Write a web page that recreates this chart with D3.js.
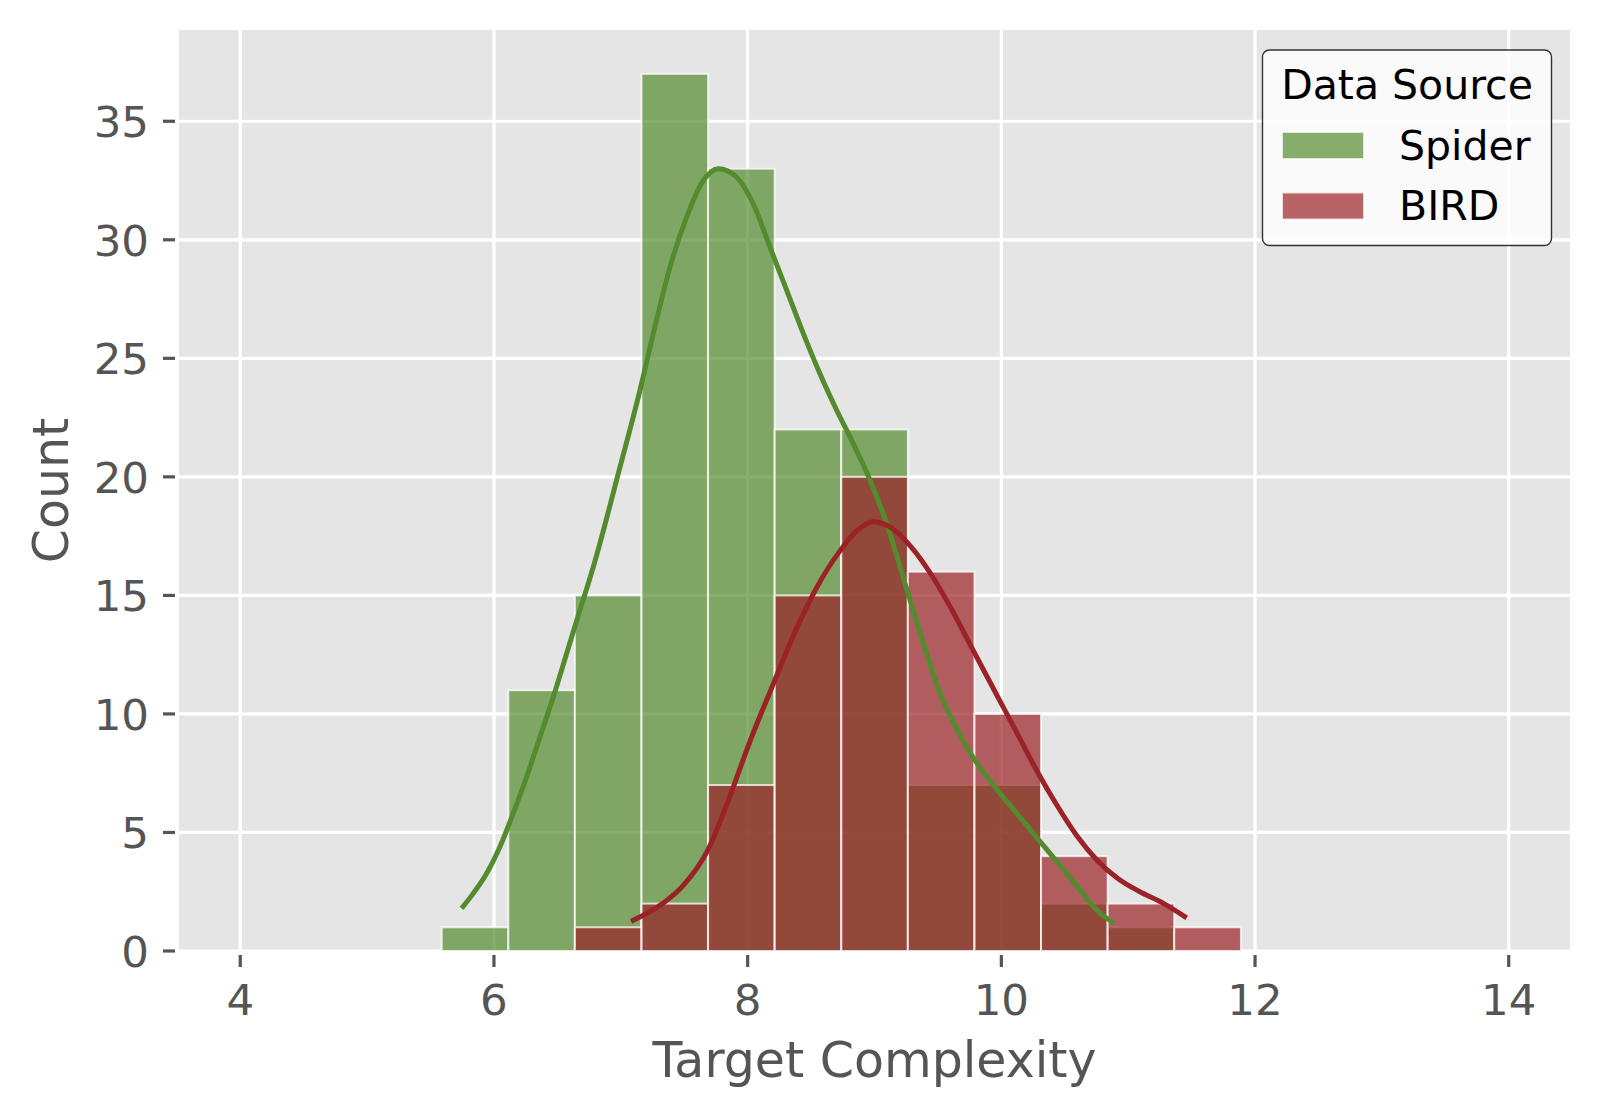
<!DOCTYPE html>
<html>
<head>
<meta charset="utf-8">
<script src="https://cdn.jsdelivr.net/npm/d3@7.9.0/dist/d3.min.js"></script>
<style>
  html, body { margin: 0; padding: 0; background: #ffffff; }
  svg { display: block; font-family: "DejaVu Sans", sans-serif; }
</style>
</head>
<body>
<svg id="chart" width="1602" height="1118"></svg>
<script>
// histogram bins shared by both sources
const binEdges = [5.588, 6.113, 6.638, 7.163, 7.688, 8.213, 8.738, 9.263, 9.788, 10.313, 10.838, 11.363, 11.889];
const spiderCounts = [1, 11, 15, 37, 33, 22, 22, 7, 7, 2, 1, 0];
const birdCounts = [0, 0, 1, 2, 7, 15, 20, 16, 10, 4, 2, 1];

// kde curves (x, count)
const spiderKde = [
  [5.745, 1.80], [5.837, 2.43], [5.943, 3.28], [6.047, 4.40], [6.152, 5.81],
  [6.258, 7.35], [6.363, 9.03], [6.468, 10.72], [6.573, 12.55], [6.678, 14.38],
  [6.783, 16.20], [6.994, 20.42], [7.151, 23.65], [7.256, 26.04],
  [7.388, 28.85], [7.519, 30.96], [7.650, 32.50], [7.769, 33.00], [7.914, 32.64],
  [8.044, 31.52], [8.176, 29.69], [8.308, 27.87], [8.439, 26.04], [8.570, 24.35],
  [8.702, 22.81], [8.833, 21.40], [8.965, 19.86], [9.096, 18.03], [9.255, 15.25],
  [9.385, 12.99], [9.516, 10.88], [9.647, 9.38], [9.777, 8.17], [9.941, 6.97],
  [10.105, 5.91], [10.268, 4.86], [10.431, 3.81], [10.595, 2.75], [10.758, 1.70],
  [10.889, 1.17]
];
const birdKde = [
  [7.081, 1.25], [7.326, 1.99], [7.489, 2.75], [7.686, 4.26], [7.849, 6.37],
  [8.013, 8.77], [8.208, 11.34], [8.372, 13.44], [8.536, 15.25], [8.732, 16.91],
  [8.862, 17.73], [8.993, 18.11], [9.124, 17.88], [9.287, 17.06], [9.451, 15.85],
  [9.614, 14.35], [9.777, 12.69], [9.941, 11.03], [10.105, 9.38], [10.268, 7.72],
  [10.431, 6.21], [10.595, 4.86], [10.758, 3.81], [10.921, 3.05], [11.085, 2.52],
  [11.281, 2.00], [11.461, 1.40]
];

const xTicks = [4, 6, 8, 10, 12, 14];
const yTicks = [0, 5, 10, 15, 20, 25, 30, 35];
const seriesNames = ['Spider', 'BIRD'];
const seriesColors = ['#558B2F', '#9B2226'];

const svg = d3.select('#chart');
const plot = { left: 179, right: 1570, top: 30, bottom: 951 };

const xScale = d3.scaleLinear().domain([3.517, 14.483]).range([plot.left, plot.right]);
const yScale = d3.scaleLinear().domain([0, 38.85]).range([plot.bottom, plot.top]);

// panel background
svg.append('rect')
  .attr('x', plot.left).attr('y', plot.top)
  .attr('width', plot.right - plot.left).attr('height', plot.bottom - plot.top)
  .attr('fill', '#E5E5E5');

// gridlines
const grid = svg.append('g').attr('class', 'grid');
grid.selectAll('line.gx')
  .data(xTicks)
  .join('line')
  .attr('class', 'gx')
  .attr('x1', d => xScale(d)).attr('x2', d => xScale(d))
  .attr('y1', plot.top).attr('y2', plot.bottom)
  .attr('stroke', '#ffffff').attr('stroke-width', 3.2);
grid.selectAll('line.gy')
  .data(yTicks)
  .join('line')
  .attr('class', 'gy')
  .attr('x1', plot.left).attr('x2', plot.right)
  .attr('y1', d => yScale(d)).attr('y2', d => yScale(d))
  .attr('stroke', '#ffffff').attr('stroke-width', 3.2);

// histogram bars
const bins = binEdges.slice(0, -1).map((x0, i) => ({ x0, x1: binEdges[i + 1], i }));

[spiderCounts, birdCounts].forEach((counts, s) => {
  svg.append('g')
    .attr('class', 'bars-' + seriesNames[s])
    .selectAll('rect')
    .data(bins.filter(b => counts[b.i] > 0))
    .join('rect')
    .attr('x', d => xScale(d.x0))
    .attr('width', d => xScale(d.x1) - xScale(d.x0))
    .attr('y', d => yScale(counts[d.i]))
    .attr('height', d => yScale(0) - yScale(counts[d.i]))
    .attr('fill', seriesColors[s])
    .attr('fill-opacity', 0.7)
    .attr('stroke', '#ffffff')
    .attr('stroke-opacity', 0.75)
    .attr('stroke-width', 2);
});

// kde lines
const line = d3.line()
  .x(d => xScale(d[0]))
  .y(d => yScale(d[1]))
  .curve(d3.curveMonotoneX);

[spiderKde, birdKde].forEach((pts, s) => {
  svg.append('path')
    .datum(pts)
    .attr('d', line)
    .attr('fill', 'none')
    .attr('stroke', seriesColors[s])
    .attr('stroke-width', 5);
});

// ticks
const tickColor = '#555555';
const xt = svg.append('g').attr('class', 'x-ticks');
xt.selectAll('line')
  .data(xTicks)
  .join('line')
  .attr('x1', d => xScale(d)).attr('x2', d => xScale(d))
  .attr('y1', plot.bottom + 4).attr('y2', plot.bottom + 16)
  .attr('stroke', tickColor).attr('stroke-width', 3.2);
xt.selectAll('text')
  .data(xTicks)
  .join('text')
  .attr('x', d => xScale(d))
  .attr('y', 1015)
  .attr('text-anchor', 'middle')
  .attr('font-size', 43.5)
  .attr('fill', tickColor)
  .text(d => d);

const yt = svg.append('g').attr('class', 'y-ticks');
yt.selectAll('line')
  .data(yTicks)
  .join('line')
  .attr('x1', plot.left - 16).attr('x2', plot.left - 4)
  .attr('y1', d => yScale(d)).attr('y2', d => yScale(d))
  .attr('stroke', tickColor).attr('stroke-width', 3.2);
yt.selectAll('text')
  .data(yTicks)
  .join('text')
  .attr('x', 149)
  .attr('y', d => yScale(d) + 15.8)
  .attr('text-anchor', 'end')
  .attr('font-size', 43.5)
  .attr('fill', tickColor)
  .text(d => d);

// axis labels
svg.append('text')
  .attr('x', (plot.left + plot.right) / 2)
  .attr('y', 1077)
  .attr('text-anchor', 'middle')
  .attr('font-size', 49)
  .attr('fill', tickColor)
  .text('Target Complexity');

svg.append('text')
  .attr('transform', `translate(68, ${(plot.top + plot.bottom) / 2}) rotate(-90)`)
  .attr('text-anchor', 'middle')
  .attr('font-size', 49)
  .attr('fill', tickColor)
  .text('Count');

// legend
const legend = svg.append('g').attr('class', 'legend');
legend.append('rect')
  .attr('x', 1262.5).attr('y', 50)
  .attr('width', 289).attr('height', 195.5)
  .attr('rx', 7)
  .attr('fill', '#ffffff').attr('fill-opacity', 0.8)
  .attr('stroke', '#333333').attr('stroke-width', 1.4);
legend.append('text')
  .attr('x', 1407).attr('y', 98.5)
  .attr('text-anchor', 'middle')
  .attr('font-size', 41)
  .attr('fill', '#000000')
  .text('Data Source');

const items = legend.selectAll('g.item')
  .data(seriesNames)
  .join('g')
  .attr('class', 'item')
  .attr('transform', (d, i) => `translate(0, ${i * 60.5})`);
items.append('rect')
  .attr('x', 1282).attr('y', 132)
  .attr('width', 82).attr('height', 27)
  .attr('fill', (d, i) => seriesColors[i])
  .attr('fill-opacity', 0.7)
  .attr('stroke', '#ffffff').attr('stroke-opacity', 0.75).attr('stroke-width', 2);
items.append('text')
  .attr('x', 1399).attr('y', 159.5)
  .attr('font-size', 41)
  .attr('fill', '#000000')
  .text(d => d);
</script>
</body>
</html>
